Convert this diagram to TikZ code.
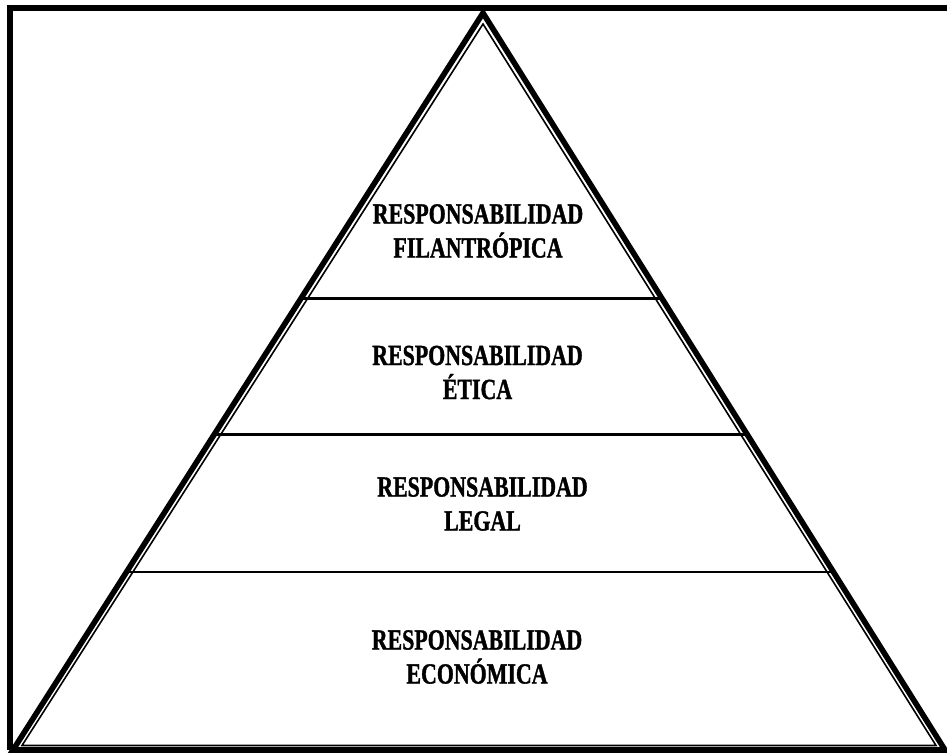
\documentclass[tikz,border=0pt]{standalone}
\usepackage{fontspec}
\setmainfont{Liberation Serif}[FakeStretch=0.75, BoldFeatures={FakeBold=1.2}]
\usetikzlibrary{calc}
\begin{document}
\begin{tikzpicture}[x=0.5pt, y=-0.5pt,
  frame/.style={line width=3pt},
  outerline/.style={line width=2.8pt, line join=miter},
  innerline/.style={line width=0.8pt, line join=miter},
  level/.style={line width=1.1pt},
  label/.style={align=center, font=\bfseries\fontsize{14.6}{17}\selectfont, inner sep=0pt}
]
\useasboundingbox (0,0) rectangle (947,755);
% frame
\draw[frame] (9.5,750) -- (9.5,8) -- (960,8);
% pyramid
\coordinate (apex) at (483,13);
\coordinate (bl) at (13,750);
\coordinate (br) at (945,750);
\draw[outerline] (apex) -- (bl) -- (br) -- cycle;
\draw[innerline] (483,24) -- (22,745.5) -- (936,745.5) -- cycle;

% level separators
\foreach \t/\n in {0.3875/a, 0.5718/b, 0.7588/c}{
  \coordinate (l\n) at ($(apex)!\t!(bl)$);
  \coordinate (r\n) at ($(apex)!\t!(br)$);
  \draw[level] (l\n) -- (r\n);
}

\node[label] (filantropica) at (478,231) {RESPONSABILIDAD\\FILANTRÓPICA};
\node[label] (etica) at (477.5,372.5) {RESPONSABILIDAD\\ÉTICA};
\node[label] (legal) at (482.5,504) {RESPONSABILIDAD\\LEGAL};
\node[label] (economica) at (477,657) {RESPONSABILIDAD\\ECONÓMICA};
\end{tikzpicture}
\end{document}
